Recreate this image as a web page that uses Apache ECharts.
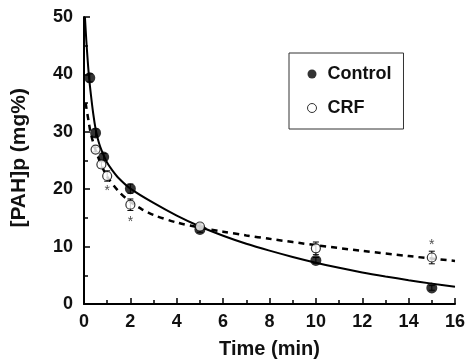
<!DOCTYPE html>
<html>
<head>
<meta charset="utf-8">
<script src="https://cdn.jsdelivr.net/npm/echarts@6/dist/echarts.min.js"></script>
<style>
  html, body { margin: 0; padding: 0; background: #fff; }
  #chart { width: 465px; height: 363px; }
</style>
</head>
<body>
<div id="chart"></div>
<script>
// measured points (mean) and SE
const controlTime = [0.25, 0.5, 0.85, 2, 5, 10, 15];
const controlValue = [39.4, 29.8, 25.6, 20.1, 13.0, 7.6, 2.8];
const controlErr = [0.7, 0.7, 0.6, 0.8, 0.5, 0.5, 0.4];

const crfTime = [0.5, 0.75, 1, 2, 5, 10, 15];
const crfValue = [26.9, 24.3, 22.3, 17.3, 13.5, 9.7, 8.1];
const crfErr = [0.4, 0.6, 0.9, 1.0, 0.5, 1.1, 1.1];

// fitted curves
const controlFitTime = [0.04, 0.1, 0.16, 0.22, 0.3, 0.4, 0.5, 0.6, 0.7, 0.85, 1, 1.2, 1.5, 2, 3, 4, 5, 6, 7, 8, 9, 10, 11, 12, 13, 14, 15, 16];
const controlFitValue = [50, 45.9, 42.4, 39.4, 36.4, 33.1, 30.5, 28.7, 27.4, 25.9, 24.6, 23.4, 21.9, 20.1, 17.6, 15.4, 13.5, 11.9, 10.5, 9.3, 8.2, 7.2, 6.3, 5.5, 4.8, 4.15, 3.55, 3.0];

const crfFitTime = [0.07, 0.2, 0.3, 0.5, 0.75, 1, 1.5, 2, 2.5, 3, 4, 5, 6, 7, 8, 10, 12, 14, 16];
const crfFitValue = [35, 31.8, 29.6, 26.8, 24.2, 22.2, 19.6, 17.8, 16.5, 15.5, 14.2, 13.3, 12.6, 11.95, 11.35, 10.25, 9.25, 8.35, 7.5];

// significance marks
const starTime = [1, 2, 15];
const starValue = [20.1, 14.8, 10.7];

const xTicks = { min: 0, max: 16, interval: 2 };
const yTicks = { min: 0, max: 50, interval: 10 };

const font = 'Liberation Sans, Arial, Helvetica, sans-serif';

function pairs(xs, ys) {
    return xs.map((x, i) => [x, ys[i]]);
}

function errBars(xs, ys, es) {
    return xs.map((x, i) => [x, ys[i], es[i]]);
}

function renderErr(params, api) {
    const x = api.value(0);
    const y = api.value(1);
    const e = api.value(2);
    const top = api.coord([x, y + e]);
    const bot = api.coord([x, y - e]);
    const w = 3;
    const style = { stroke: '#000', lineWidth: 1 };
    return {
        type: 'group',
        children: [
            { type: 'line', shape: { x1: top[0], y1: top[1], x2: bot[0], y2: bot[1] }, style: style },
            { type: 'line', shape: { x1: top[0] - w, y1: top[1], x2: top[0] + w, y2: top[1] }, style: style },
            { type: 'line', shape: { x1: bot[0] - w, y1: bot[1], x2: bot[0] + w, y2: bot[1] }, style: style }
        ]
    };
}

const axisCommon = {
    type: 'value',
    axisLine: { show: true, onZero: false, lineStyle: { color: '#000', width: 2 } },
    axisTick: { show: true, inside: true, length: 6, lineStyle: { color: '#000', width: 1.5 } },
    minorTick: { show: true, splitNumber: 2, length: 4, lineStyle: { color: '#000', width: 1.5 } },
    splitLine: { show: false },
    axisLabel: { color: '#111', fontWeight: 'bold', fontSize: 18, fontFamily: font }
};

const option = {
    animation: false,
    backgroundColor: '#fff',
    grid: { left: 84, right: 10, top: 17, bottom: 59, outerBoundsMode: 'none' },
    xAxis: Object.assign({}, axisCommon, {
        min: xTicks.min, max: xTicks.max, interval: xTicks.interval,
        axisLabel: Object.assign({}, axisCommon.axisLabel, { margin: 9 }),
        name: 'Time (min)',
        nameLocation: 'middle',
        nameGap: 35,
        nameTextStyle: { color: '#111', fontWeight: 'bold', fontSize: 20, fontFamily: font }
    }),
    yAxis: Object.assign({}, axisCommon, {
        min: yTicks.min, max: yTicks.max, interval: yTicks.interval,
        axisLabel: Object.assign({}, axisCommon.axisLabel, { margin: 11 })
    }),
    legend: {
        left: 289,
        top: 53,
        orient: 'vertical',
        padding: [12, 12, 12, 18],
        itemGap: 16,
        itemWidth: 9,
        itemHeight: 9,
        borderColor: '#333',
        borderWidth: 1,
        textStyle: { color: '#111', fontWeight: 'bold', fontSize: 18, fontFamily: font, padding: [0, 0, 0, 6] },
        data: [
            { name: 'Control', icon: 'circle', itemStyle: { color: '#000', borderWidth: 0 } },
            { name: 'CRF', icon: 'circle', itemStyle: { color: '#fff', borderColor: '#000', borderWidth: 1 } }
        ]
    },
    graphic: [
        {
            type: 'text',
            left: 9,
            top: 88,
            rotation: Math.PI / 2,
            style: {
                text: '[PAH]p (mg%)',
                fill: '#111',
                font: 'bold 21px ' + font
            }
        }
    ],
    series: [
        {
            name: 'Control fit',
            type: 'line',
            data: pairs(controlFitTime, controlFitValue),
            smooth: 0.3,
            symbol: 'none',
            lineStyle: { color: '#000', width: 2 },
            z: 2
        },
        {
            name: 'CRF fit',
            type: 'line',
            data: pairs(crfFitTime, crfFitValue),
            smooth: 0.3,
            symbol: 'none',
            lineStyle: { color: '#000', width: 2.5, type: [6, 5] },
            z: 2
        },
        {
            name: 'Control err',
            type: 'custom',
            renderItem: renderErr,
            data: errBars(controlTime, controlValue, controlErr),
            z: 3
        },
        {
            name: 'CRF err',
            type: 'custom',
            renderItem: renderErr,
            data: errBars(crfTime, crfValue, crfErr),
            z: 3
        },
        {
            name: 'Control',
            type: 'scatter',
            data: pairs(controlTime, controlValue),
            symbol: 'circle',
            symbolSize: 11,
            itemStyle: { color: '#000' },
            z: 4
        },
        {
            name: 'CRF',
            type: 'scatter',
            data: pairs(crfTime, crfValue),
            symbol: 'circle',
            symbolSize: 9,
            itemStyle: { color: '#fff', borderColor: '#000', borderWidth: 1.2 },
            z: 5
        },
        {
            name: 'significance',
            type: 'scatter',
            data: pairs(starTime, starValue),
            symbolSize: 0,
            label: {
                show: true,
                position: 'inside',
                formatter: '*',
                color: '#222',
                fontSize: 14,
                fontFamily: font,
                offset: [0, 3]
            },
            z: 5
        }
    ]
};

const myChart = echarts.init(document.getElementById('chart'));
myChart.setOption(option);
</script>
</body>
</html>
